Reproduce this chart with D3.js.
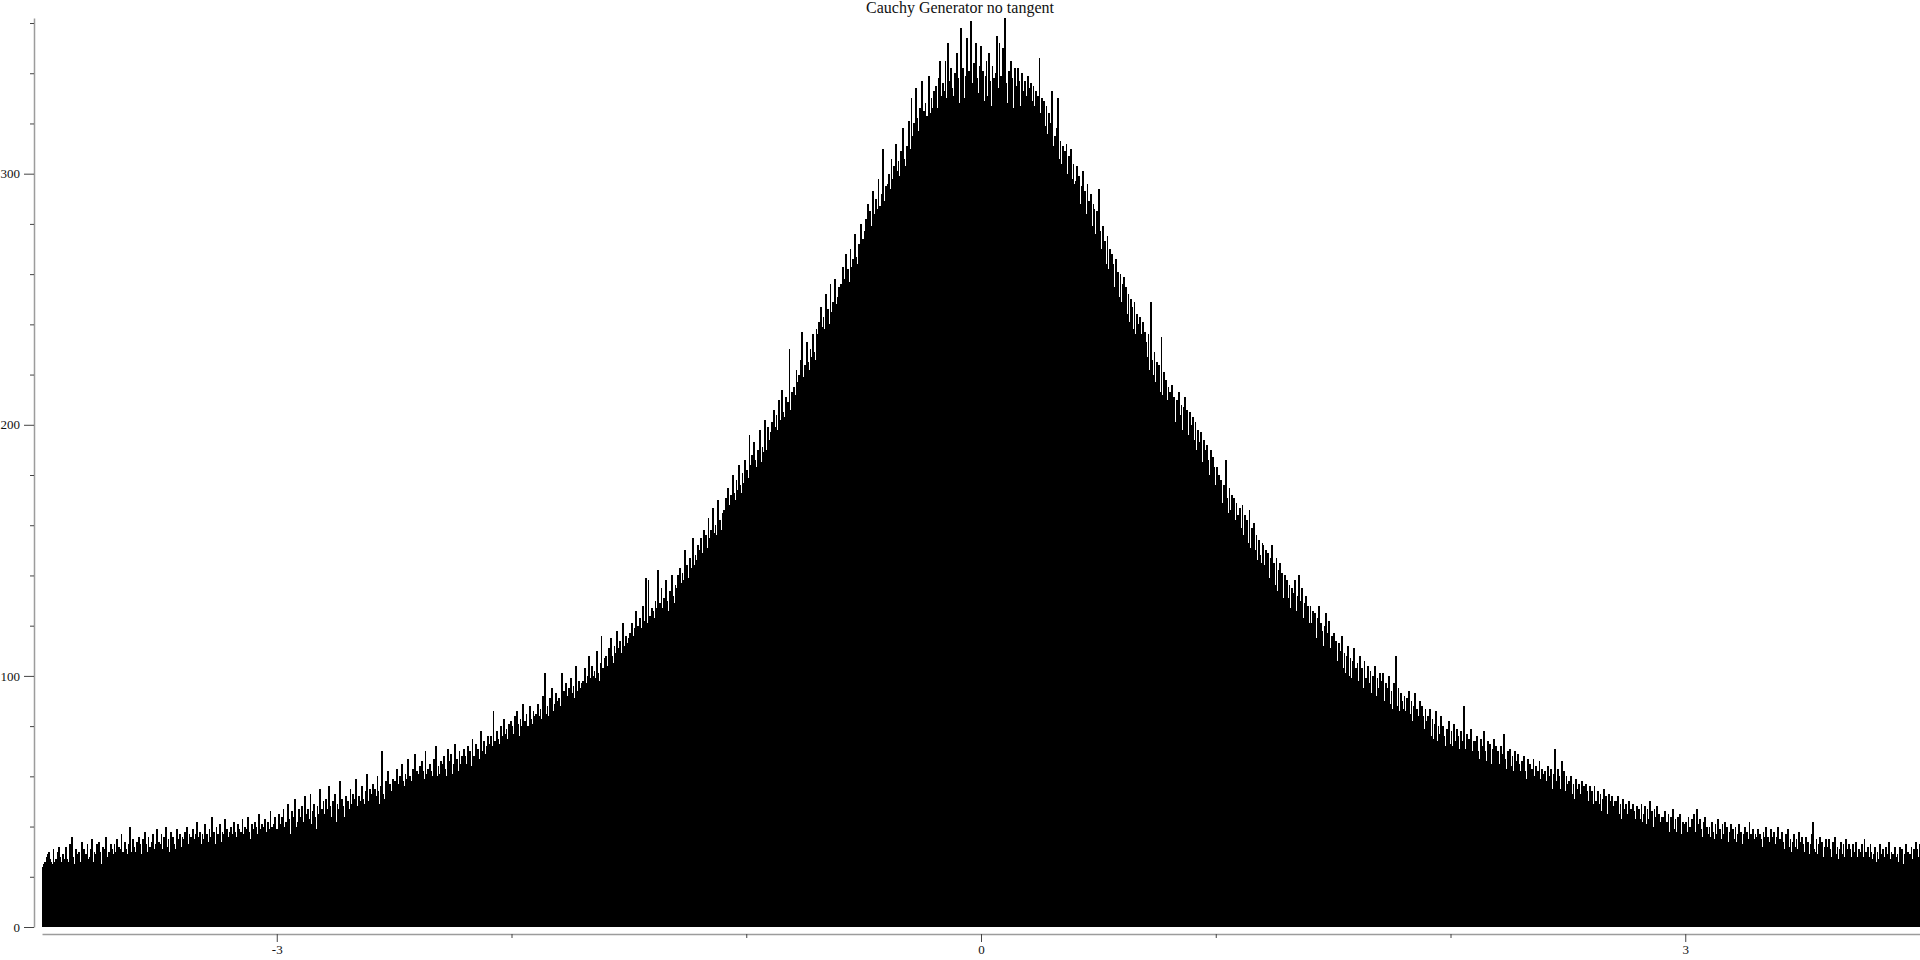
<!DOCTYPE html>
<html>
<head>
<meta charset="utf-8">
<title>Cauchy Generator no tangent</title>
<script src="https://cdn.jsdelivr.net/npm/d3@7"></script>
<style>
    html, body { margin: 0; padding: 0; background: #fff; }
    svg { display: block; font-family: "Liberation Serif", "Times New Roman", serif; }
    .axis .domain { stroke: #9c9c9c; stroke-width: 1.5; }
    .axis .tick line { stroke: #444; }
    .axis .tick text { fill: #111; font-size: 13px; }
    .title { font-size: 16px; fill: #111; }
</style>
</head>
<body>
<svg id="chart" width="1920" height="960"></svg>
<script>
// Histogram of generated samples on [-4, 4], 1600 bins of width 0.005.
// Counts, one array per unit interval.
const X_DOMAIN = [-4, 4];

const binsNeg4 = [
    24, 25, 26, 28, 29, 30, 27, 26, 25, 31, 26, 27, 25, 30, 32, 28, 26, 29, 24, 27,
    32, 27, 26, 33, 29, 36, 28, 25, 31, 29, 27, 30, 26, 34, 28, 31, 25, 29, 33, 27,
    28, 31, 35, 26, 30, 29, 33, 27, 34, 30, 25, 32, 29, 31, 36, 28, 30, 26, 33, 31,
    29, 33, 30, 35, 28, 32, 31, 37, 30, 27, 34, 31, 29, 33, 40, 30, 28, 35, 32, 30,
    34, 30, 36, 33, 29, 35, 31, 38, 33, 30, 36, 32, 28, 34, 37, 31, 33, 39, 30, 34,
    33, 37, 31, 36, 34, 40, 32, 35, 30, 38, 34, 36, 33, 31, 39, 35, 34, 37, 32, 36,
    35, 38, 34, 40, 33, 37, 36, 31, 39, 35, 37, 42, 34, 36, 38, 33, 37, 35, 41, 36,
    37, 34, 39, 36, 44, 35, 38, 33, 40, 37, 36, 41, 34, 38, 37, 43, 35, 39, 36, 38,
    40, 37, 35, 42, 38, 36, 41, 39, 34, 38, 43, 37, 40, 36, 39, 44, 38, 35, 41, 39,
    38, 42, 40, 37, 45, 39, 36, 41, 40, 43, 38, 35, 42, 39, 46, 40, 37, 41, 44, 39
];
const binsNeg3 = [
    39, 45, 41, 36, 44, 47, 40, 42, 38, 49, 43, 37, 46, 41, 44, 51, 40, 42, 47, 39,
    44, 48, 42, 52, 45, 40, 47, 43, 53, 41, 46, 49, 44, 39, 48, 45, 55, 42, 47, 50,
    45, 51, 47, 43, 56, 48, 44, 50, 46, 53, 42, 49, 47, 58, 45, 51, 48, 44, 52, 49,
    50, 47, 55, 49, 53, 46, 51, 59, 48, 52, 50, 45, 56, 51, 49, 54, 61, 50, 47, 55,
    53, 57, 50, 55, 52, 60, 54, 49, 56, 70, 53, 51, 58, 55, 62, 52, 57, 54, 59, 51,
    58, 55, 63, 57, 60, 54, 65, 58, 56, 61, 59, 67, 55, 60, 58, 63, 57, 69, 59, 62,
    61, 64, 58, 66, 62, 59, 70, 61, 63, 57, 65, 62, 60, 67, 63, 72, 60, 64, 61, 66,
    65, 62, 68, 63, 60, 71, 64, 66, 69, 61, 65, 73, 63, 67, 62, 70, 65, 68, 64, 71,
    68, 65, 72, 67, 70, 64, 75, 68, 66, 73, 69, 71, 67, 78, 70, 68, 74, 69, 72, 76,
    73, 70, 76, 72, 86, 74, 71, 78, 75, 73, 80, 76, 74, 83, 77, 79, 75, 81, 78, 82
];
const binsNeg2 = [
    80, 77, 84, 79, 86, 81, 76, 83, 80, 89, 78, 82, 85, 80, 77, 88, 83, 81, 86, 84,
    85, 82, 89, 84, 87, 83, 92, 86, 101, 85, 88, 84, 91, 87, 95, 86, 89, 93, 88, 90,
    91, 88, 101, 90, 94, 89, 97, 92, 95, 90, 99, 93, 96, 91, 104, 94, 92, 98, 95, 97,
    98, 95, 103, 97, 100, 108, 99, 96, 104, 100, 102, 99, 110, 101, 98, 105, 116, 103, 100, 107,
    108, 104, 111, 106, 115, 108, 105, 112, 109, 118, 107, 111, 114, 109, 121, 112, 110, 116, 113, 115,
    117, 113, 121, 116, 119, 126, 117, 120, 115, 123, 119, 128, 118, 122, 139, 121, 138, 124, 120, 127,
    126, 123, 130, 127, 142, 125, 129, 135, 127, 131, 128, 138, 130, 126, 134, 131, 140, 132, 129, 136,
    135, 140, 134, 143, 137, 141, 138, 150, 140, 144, 139, 147, 143, 141, 155, 144, 148, 146, 152, 147,
    150, 155, 149, 158, 152, 156, 151, 163, 155, 158, 154, 167, 157, 160, 156, 170, 159, 162, 158, 165,
    166, 163, 171, 167, 175, 168, 172, 169, 180, 173, 170, 178, 174, 184, 176, 173, 181, 177, 186, 179
];
const binsNeg1 = [
    182, 179, 196, 184, 188, 181, 193, 186, 183, 190, 187, 198, 185, 191, 189, 202, 190, 188, 199, 194,
    197, 201, 195, 206, 199, 204, 198, 210, 202, 200, 214, 205, 203, 211, 207, 209, 230, 206, 213, 210,
    215, 212, 222, 217, 220, 216, 226, 237, 219, 224, 221, 233, 225, 222, 230, 227, 236, 229, 226, 238,
    236, 241, 234, 247, 239, 243, 238, 252, 242, 246, 240, 256, 245, 249, 244, 258, 248, 251, 255, 250,
    256, 253, 263, 258, 268, 259, 262, 257, 270, 263, 266, 261, 276, 267, 264, 272, 269, 280, 271, 274,
    277, 282, 276, 288, 280, 285, 279, 293, 284, 281, 290, 286, 298, 287, 284, 292, 310, 289, 295, 291,
    296, 300, 294, 306, 298, 303, 297, 312, 301, 305, 299, 309, 304, 318, 306, 303, 311, 308, 321, 310,
    330, 315, 320, 318, 334, 322, 317, 326, 321, 337, 319, 325, 328, 323, 318, 339, 324, 330, 326, 333,
    329, 335, 326, 338, 345, 331, 327, 336, 333, 345, 330, 352, 337, 325, 342, 334, 331, 340, 336, 348,
    338, 328, 358, 335, 342, 330, 339, 354, 333, 341, 327, 361, 336, 344, 329, 352, 338, 332, 343, 351
];
const binsPos0 = [
    336, 341, 329, 339, 345, 331, 348, 337, 327, 343, 338, 332, 340, 355, 334, 352, 339, 330, 350, 342,
    362, 336, 328, 341, 333, 345, 338, 326, 342, 335, 331, 342, 337, 327, 340, 333, 324, 337, 331, 339,
    334, 326, 336, 329, 335, 327, 333, 322, 331, 346, 324, 330, 321, 329, 319, 327, 316, 324, 320, 314,
    333, 311, 315, 308, 318, 330, 306, 313, 304, 311, 302, 309, 312, 300, 307, 303, 310, 298, 304, 296,
    297, 303, 290, 299, 288, 295, 301, 286, 293, 284, 296, 289, 282, 292, 279, 288, 286, 276, 285, 281,
    294, 277, 270, 279, 267, 273, 264, 275, 262, 270, 258, 268, 264, 255, 266, 253, 261, 251, 260, 249,
    256, 259, 246, 255, 244, 252, 241, 250, 247, 238, 249, 236, 244, 240, 233, 243, 236, 241, 229, 237,
    233, 227, 236, 222, 249, 226, 220, 229, 217, 225, 215, 224, 213, 235, 212, 221, 209, 218, 210, 215,
    213, 206, 216, 203, 211, 201, 210, 199, 213, 204, 208, 198, 207, 211, 199, 206, 196, 205, 200, 194,
    203, 194, 201, 190, 198, 193, 187, 197, 185, 194, 190, 181, 192, 186, 180, 190, 179, 187, 183, 176
];
const binsPos1 = [
    183, 174, 180, 171, 178, 169, 176, 167, 186, 171, 165, 175, 166, 172, 163, 171, 162, 169, 164, 160,
    167, 159, 168, 156, 164, 155, 162, 153, 166, 151, 159, 149, 161, 150, 156, 146, 154, 148, 145, 153,
    152, 144, 150, 141, 149, 139, 147, 152, 137, 145, 136, 147, 134, 142, 145, 133, 141, 131, 140, 132,
    138, 131, 136, 127, 135, 125, 133, 138, 126, 132, 140, 124, 130, 135, 123, 129, 132, 122, 128, 121,
    128, 121, 126, 117, 125, 115, 123, 128, 114, 121, 118, 112, 120, 125, 113, 117, 122, 111, 116, 110,
    117, 109, 114, 106, 113, 104, 110, 116, 103, 109, 101, 108, 112, 100, 107, 99, 106, 111, 98, 103,
    105, 98, 108, 96, 103, 95, 106, 99, 94, 104, 97, 102, 93, 100, 96, 104, 92, 99, 95, 101,
    98, 92, 101, 90, 97, 88, 95, 100, 89, 94, 87, 97, 91, 108, 88, 95, 86, 93, 90, 87,
    92, 86, 91, 83, 94, 85, 90, 82, 88, 93, 81, 87, 84, 90, 80, 88, 84, 79, 87, 82,
    84, 78, 87, 76, 83, 75, 81, 86, 74, 80, 77, 84, 73, 80, 76, 72, 79, 75, 82, 73
];
const binsPos2 = [
    78, 72, 81, 74, 70, 79, 76, 71, 78, 74, 72, 88, 71, 77, 69, 75, 73, 79, 70, 74,
    74, 68, 76, 70, 67, 75, 72, 68, 78, 70, 66, 74, 69, 73, 65, 71, 75, 67, 72, 69,
    70, 65, 72, 64, 69, 77, 67, 63, 70, 66, 71, 64, 68, 62, 70, 66, 63, 69, 65, 62,
    66, 61, 68, 62, 59, 67, 61, 65, 58, 63, 67, 60, 64, 57, 62, 66, 59, 63, 60, 61,
    62, 58, 64, 56, 60, 63, 55, 61, 71, 58, 56, 63, 60, 55, 66, 58, 62, 54, 60, 57,
    58, 54, 60, 53, 57, 51, 59, 55, 50, 57, 53, 58, 52, 56, 49, 57, 54, 50, 56, 52,
    54, 49, 56, 50, 47, 54, 49, 53, 46, 51, 55, 48, 52, 45, 53, 50, 47, 52, 48, 50,
    50, 46, 52, 45, 49, 43, 51, 47, 42, 49, 45, 50, 44, 47, 41, 49, 46, 43, 48, 44,
    47, 43, 49, 42, 45, 48, 41, 47, 43, 50, 42, 46, 40, 47, 44, 48, 39, 45, 42, 44,
    44, 40, 46, 39, 42, 45, 38, 44, 41, 47, 39, 43, 38, 44, 40, 45, 37, 42, 40, 41
];
const binsPos3 = [
    42, 38, 44, 40, 37, 43, 39, 45, 38, 47, 41, 37, 43, 39, 36, 42, 44, 38, 40, 37,
    40, 36, 42, 38, 35, 41, 37, 43, 36, 39, 35, 41, 37, 42, 36, 40, 34, 38, 41, 36,
    39, 35, 40, 34, 37, 41, 35, 38, 33, 37, 40, 34, 38, 35, 42, 37, 34, 39, 35, 37,
    36, 39, 33, 37, 35, 32, 38, 36, 40, 33, 36, 34, 39, 32, 36, 38, 33, 36, 40, 34,
    35, 32, 38, 34, 31, 37, 33, 39, 32, 35, 30, 34, 37, 32, 35, 31, 38, 34, 32, 36,
    33, 30, 36, 32, 34, 29, 33, 37, 42, 31, 30, 35, 29, 33, 36, 30, 34, 28, 32, 35,
    32, 29, 35, 31, 28, 34, 30, 36, 29, 32, 27, 31, 34, 29, 33, 28, 35, 31, 29, 33,
    31, 28, 33, 30, 27, 34, 28, 31, 26, 30, 33, 28, 35, 30, 27, 32, 28, 33, 30, 27,
    29, 32, 26, 30, 27, 33, 29, 25, 31, 28, 32, 29, 26, 34, 27, 30, 29, 26, 32, 28,
    29, 26, 32, 28, 31, 25, 29, 33, 27, 30, 26, 29, 32, 27, 31, 29, 34, 31, 28, 33
];

const counts = [].concat(binsNeg4, binsNeg3, binsNeg2, binsNeg1,
                         binsPos0, binsPos1, binsPos2, binsPos3);

const yMajorTicks = [0, 100, 200, 300];
const yTickStep = 20;
const xTickValues = [-3, -2, -1, 0, 1, 2, 3];
const xLabelledTicks = [-3, 0, 3];
const TITLE = "Cauchy Generator no tangent";

// Plot frame. Axes sit slightly off the data area, as in the original.
const PLOT = { left: 42, right: 1920, top: 18, bottom: 927 };
const Y_AXIS_X = 34;
const X_AXIS_Y = 934;

const svg = d3.select("#chart");

const binWidth = (X_DOMAIN[1] - X_DOMAIN[0]) / counts.length;
const bins = counts.map((c, i) => ({
    x0: X_DOMAIN[0] + i * binWidth,
    x1: X_DOMAIN[0] + (i + 1) * binWidth,
    count: c,
}));

const x = d3.scaleLinear().domain(X_DOMAIN).range([PLOT.left, PLOT.right]);
const y = d3.scaleLinear()
    .domain([0, d3.max(counts)])
    .range([PLOT.bottom, PLOT.top]);

// Bars — slight overlap + crisp edges so the mass renders solid black.
svg.append("g")
    .attr("class", "bars")
    .attr("shape-rendering", "crispEdges")
    .selectAll("rect")
    .data(bins)
    .join("rect")
    .attr("x", (d) => x(d.x0))
    .attr("y", (d) => y(d.count))
    .attr("width", (d) => x(d.x1) - x(d.x0) + 0.6)
    .attr("height", (d) => y(0) - y(d.count))
    .attr("fill", "#000");

// Y axis: labelled ticks every 100, short ticks every 20.
const yTicks = d3.range(0, d3.max(counts) + 1, yTickStep);
const yAxis = svg.append("g")
    .attr("class", "axis axis--y")
    .attr("transform", `translate(${Y_AXIS_X},0)`)
    .call(d3.axisLeft(y)
        .tickValues(yTicks)
        .tickSizeOuter(0)
        .tickFormat((d) => (yMajorTicks.includes(d) ? String(d) : "")));

yAxis.selectAll(".tick line")
    .attr("x2", (d) => (yMajorTicks.includes(d) ? -10 : -4));
yAxis.selectAll(".tick text")
    .attr("x", -14);

// X axis: labelled ticks at -3, 0, 3, short ticks on the other integers.
const xAxis = svg.append("g")
    .attr("class", "axis axis--x")
    .attr("transform", `translate(0,${X_AXIS_Y})`)
    .call(d3.axisBottom(x)
        .tickValues(xTickValues)
        .tickSizeOuter(0)
        .tickFormat((d) => (xLabelledTicks.includes(d) ? String(d) : "")));

xAxis.selectAll(".tick line")
    .attr("y2", (d) => (xLabelledTicks.includes(d) ? 8 : 4));
xAxis.selectAll(".tick text")
    .attr("y", 11);

svg.selectAll(".axis").attr("font-family", null).attr("font-size", null);

svg.append("text")
    .attr("class", "title")
    .attr("x", 960)
    .attr("y", 13)
    .attr("text-anchor", "middle")
    .text(TITLE);
</script>
</body>
</html>
